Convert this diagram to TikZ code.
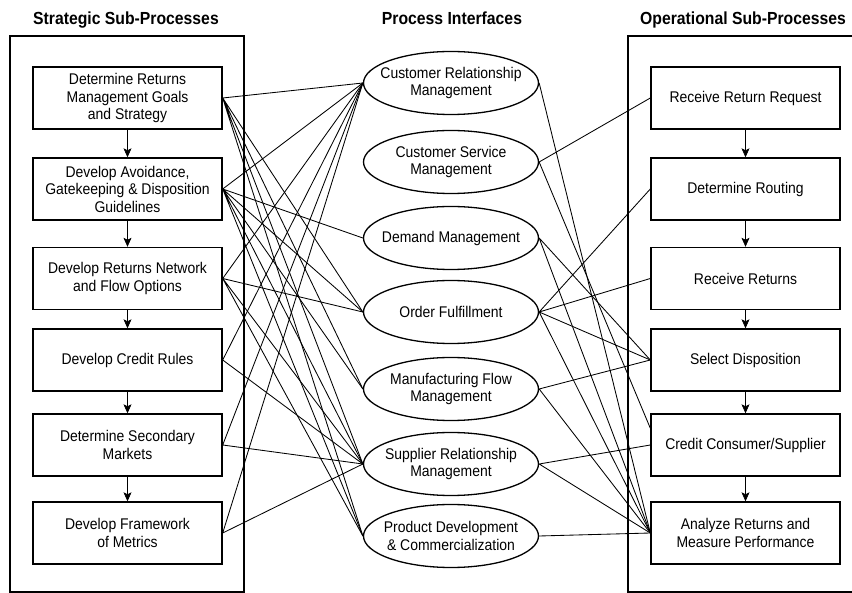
\documentclass[tikz,border=0pt]{standalone}
\usepackage{fontspec}
\setmainfont{Liberation Sans}[FakeStretch=0.9]
\usetikzlibrary{shapes.geometric,arrows.meta,positioning}

\begin{document}
\begin{tikzpicture}[x=1pt, y=-1pt,
    subproc/.style={draw, line width=1.4pt, minimum width=189pt, minimum height=62pt,
        align=center, inner sep=2pt, font=\fontsize{15.5}{17.5}\selectfont},
    iface/.style={draw, ellipse, line width=1.3pt, minimum width=175pt, minimum height=63pt,
        inner xsep=-16pt, inner ysep=0pt, align=center, font=\fontsize{15.5}{17.5}\selectfont},
    frame/.style={line width=1.7pt},
    heading/.style={anchor=base, font=\fontsize{17.5}{20}\selectfont\bfseries},
    link/.style={line width=0.85pt},
    flow/.style={line width=0.6pt, -{Stealth[length=9pt,width=8pt,inset=2pt]}}]

\useasboundingbox (0,0) rectangle (852,593);

% headings
\node[heading] (hstrat) at (126,25) {Strategic Sub-Processes};
\node[heading] (hiface) at (452,25) {Process Interfaces};
\node[heading] (hoper) at (743,25) {Operational Sub-Processes};

% frames
\draw[frame] (10,36) rectangle (244,592);
\draw[frame] (856,36) -- (628,36) -- (628,592) -- (856,592);

% strategic sub-processes
\node[subproc] (goals) at (127.5,98) {Determine Returns\\Management Goals\\and Strategy};
\node[subproc] (avoid) at (127.5,189) {Develop Avoidance,\\Gatekeeping \& Disposition\\Guidelines};
\node[subproc] (network) at (127.5,278.5) {Develop Returns Network\\and Flow Options};
\node[subproc] (credit) at (127.5,360) {Develop Credit Rules};
\node[subproc] (secmkt) at (127.5,445) {Determine Secondary\\Markets};
\node[subproc] (metrics) at (127.5,533) {Develop Framework\\of Metrics};

% process interfaces
\node[iface] (crm) at (451,83) {Customer Relationship\\Management};
\node[iface] (csm) at (451,162) {Customer Service\\Management};
\node[iface] (dem) at (451,238) {Demand Management};
\node[iface] (ofl) at (451,312) {Order Fulfillment};
\node[iface] (mfm) at (451,389) {Manufacturing Flow\\Management};
\node[iface] (srm) at (451,464) {Supplier Relationship\\Management};
\node[iface] (pdc) at (451,536) {Product Development\\\& Commercialization};

% operational sub-processes
\node[subproc] (req) at (745.5,98) {Receive Return Request};
\node[subproc] (route) at (745.5,189) {Determine Routing};
\node[subproc] (recv) at (745.5,278.5) {Receive Returns};
\node[subproc] (disp) at (745.5,360) {Select Disposition};
\node[subproc] (ccs) at (745.5,445) {Credit Consumer/Supplier};
\node[subproc] (analyze) at (745.5,533) {Analyze Returns and\\Measure Performance};

% sequence arrows
\draw[flow] (goals) -- (avoid);
\draw[flow] (avoid) -- (network);
\draw[flow] (network) -- (credit);
\draw[flow] (credit) -- (secmkt);
\draw[flow] (secmkt) -- (metrics);
\draw[flow] (req) -- (route);
\draw[flow] (route) -- (recv);
\draw[flow] (recv) -- (disp);
\draw[flow] (disp) -- (ccs);
\draw[flow] (ccs) -- (analyze);

% strategic links
\draw[link] (goals.east) -- (crm.west) (goals.east) -- (ofl.west) (goals.east) -- (mfm.west)
    (goals.east) -- (srm.west) (goals.east) -- (pdc.west);
\draw[link] (avoid.east) -- (crm.west) (avoid.east) -- (dem.west) (avoid.east) -- (ofl.west)
    (avoid.east) -- (mfm.west) (avoid.east) -- (srm.west) (avoid.east) -- (pdc.west);
\draw[link] (network.east) -- (crm.west) (network.east) -- (ofl.west)
    (network.east) -- (srm.west) (network.east) -- (pdc.west);
\draw[link] (credit.east) -- (crm.west) (credit.east) -- (srm.west);
\draw[link] (secmkt.east) -- (crm.west) (secmkt.east) -- (srm.west);
\draw[link] (metrics.east) -- (crm.west) (metrics.east) -- (srm.west);

% operational links
\draw[link] (csm.east) -- (req.west) (csm.east) -- (ccs.170);
\draw[link] (crm.east) -- (analyze.west);
\draw[link] (ofl.east) -- (route.west) (ofl.east) -- (recv.west)
    (ofl.east) -- (disp.west) (ofl.east) -- (analyze.west);
\draw[link] (dem.east) -- (disp.west) (dem.east) -- (analyze.west);
\draw[link] (mfm.east) -- (disp.west) (mfm.east) -- (analyze.west);
\draw[link] (srm.east) -- (ccs.west) (srm.east) -- (analyze.west);
\draw[link] (pdc.east) -- (analyze.west);
\end{tikzpicture}
\end{document}
